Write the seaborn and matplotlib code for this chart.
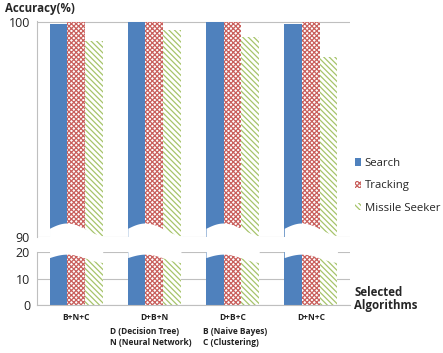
import numpy as np
import pandas as pd
import seaborn as sns
import matplotlib.pyplot as plt
from matplotlib.patches import Patch

combos = ["B+N+C", "D+B+N", "D+B+C", "D+N+C"]
tasks = ["Search", "Tracking", "Missile Seeker"]
search = [99.88, 100.0, 100.0, 99.88]
tracking = [100.0, 100.0, 100.0, 100.0]
missile = [99.12, 99.62, 99.28, 98.35]

df = pd.DataFrame({
    "combo": combos * 3,
    "task": [tasks[0]] * 4 + [tasks[1]] * 4 + [tasks[2]] * 4,
    "acc": search + tracking + missile,
})

sns.set_style("white")
plt.rcParams["font.family"] = ["Open Sans", "DejaVu Sans"]
plt.rcParams["hatch.linewidth"] = 0.9

blue, red, green = "#4F81BD", "#C9605D", "#A6C46A"
grid_c = "#BFBFBF"
red_hatch = "xxxxxxx"
green_hatch = "\\\\\\\\\\\\"

fig = plt.figure(figsize=(4.43, 3.53), dpi=100)
ax_top = fig.add_axes([0.0835, 0.3286, 0.7065, 0.612])
ax_bot = fig.add_axes([0.0835, 0.136, 0.7065, 0.150])

width = 0.68
for ax in (ax_top, ax_bot):
    sns.barplot(data=df, x="combo", y="acc", hue="task", hue_order=tasks,
                palette=[blue, red, green], width=width, gap=0, ax=ax,
                legend=False, errorbar=None, saturation=1)
    for i, cont in enumerate(ax.containers):
        for bar in cont:
            bar.set_linewidth(0)
            if i == 1:
                bar.set_facecolor("white")
                bar.set_edgecolor(red)
                bar.set_hatch(red_hatch)
            elif i == 2:
                bar.set_facecolor("white")
                bar.set_edgecolor(green)
                bar.set_hatch(green_hatch)
    ax.set_xlim(-0.5, len(combos) - 0.5)
    ax.set_xlabel("")
    ax.set_ylabel("")
    ax.set_axisbelow(True)
    ax.yaxis.grid(True, color=grid_c, linewidth=0.8)
    for s in ("top", "right", "bottom"):
        ax.spines[s].set_visible(False)
    ax.spines["left"].set_color(grid_c)
    ax.tick_params(axis="y", length=0, labelsize=9, colors="#222222", pad=5)

# break waves over each bar group
def wave(x, k):
    return np.sin(2 * np.pi * (x - k + 0.37))

for k in range(len(combos)):
    xs = np.linspace(k - width / 2, k + width / 2, 60)
    ax_top.fill_between(xs, 89.5, 90.35 + 0.3 * wave(xs, k), color="white", zorder=3, lw=0)
    ax_bot.fill_between(xs, 17.6 + 1.6 * wave(xs, k), 21, color="white", zorder=3, lw=0)

ax_top.set_ylim(90, 100.03)
ax_top.set_yticks([90, 100])
ax_top.set_xticks([])

ax_bot.set_ylim(0, 20)
ax_bot.set_yticks([0, 10, 20])
ax_bot.spines["bottom"].set_visible(True)
ax_bot.spines["bottom"].set_color(grid_c)
ax_bot.set_xticks(range(len(combos)))
ax_bot.set_xticklabels(combos, fontsize=6, fontweight="bold", color="#222222")
ax_bot.set_xticks(np.arange(-0.5, len(combos)), minor=True)
ax_bot.tick_params(axis="x", which="major", length=0, pad=6)
ax_bot.tick_params(axis="x", which="minor", length=4, color=grid_c, direction="out")

handles = [
    Patch(facecolor=blue, edgecolor=blue, linewidth=0),
    Patch(facecolor="white", edgecolor=red, hatch=red_hatch, linewidth=0),
    Patch(facecolor="white", edgecolor=green, hatch=green_hatch, linewidth=0),
]
fig.legend(handles, tasks, loc="upper left", bbox_to_anchor=(0.79, 0.565),
           frameon=False, fontsize=8.2, handlelength=0.6, handleheight=0.6,
           handletextpad=0.3, labelspacing=1.0, borderaxespad=0)

fig.text(0.012, 0.975, "Accuracy(%)", fontsize=8.3, fontweight="bold", va="center")
fig.text(0.8, 0.152, "Selected\nAlgorithms", fontsize=8.3, fontweight="bold",
         va="center", linespacing=1.0)
fig.text(0.248, 0.045, "D (Decision Tree)\nN (Neural Network)", fontsize=6,
         fontweight="bold", va="center", linespacing=1.2, color="#222222")
fig.text(0.458, 0.045, "B (Naive Bayes)\nC (Clustering)", fontsize=6,
         fontweight="bold", va="center", linespacing=1.2, color="#222222")

fig.savefig("out.png", dpi=100)
